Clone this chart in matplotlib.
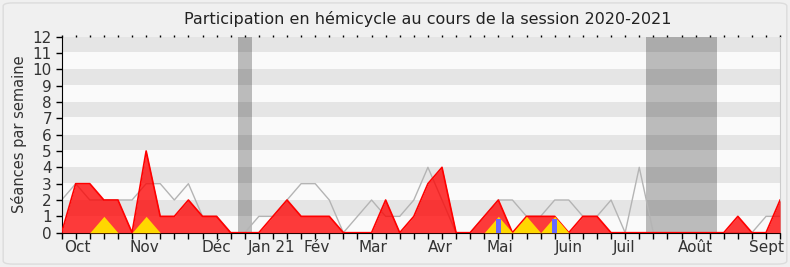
import matplotlib
matplotlib.use("Agg")
import matplotlib.pyplot as plt
from matplotlib.patches import FancyBboxPatch
import numpy as np

# weekly values, session 2020-2021 (52 weeks)
presence = [0, 3, 3, 2, 2, 0, 5, 1, 1, 2, 1, 1, 0, 0, 0, 1, 2, 1, 1, 1,
            0, 0, 0, 2, 0, 1, 3, 4, 0, 0, 1, 2, 0, 1, 1, 1, 0, 1, 1, 0,
            0, 0, 0, 0, 0, 0, 0, 0, 1, 0, 0, 2]
mediane = [2, 3, 2, 2, 2, 2, 3, 3, 2, 3, 1, 1, 0, 0, 1, 1, 2, 3, 3, 2,
           0, 1, 2, 1, 1, 2, 4, 2, 0, 0, 1, 2, 2, 1, 1, 2, 2, 1, 1, 2,
           0, 4, 0, 0, 0, 0, 0, 0, 0, 0, 1, 1]
interventions = [0, 0, 0, 1, 0, 0, 1, 0, 0, 0, 0, 0, 0, 0, 0, 0, 0, 0, 0, 0,
                 0, 0, 0, 0, 0, 0, 0, 0, 0, 0, 0, 1, 0, 1, 0, 1, 0, 0, 0, 0,
                 0, 0, 0, 0, 0, 0, 0, 0, 0, 0, 0, 0]
questions = {31: 0.85, 35: 0.85}
vacances = [(12.5, 13.5), (41.5, 46.5)]
mois = ["Oct", "Nov", "Déc", "Jan 21", "Fév", "Mar", "Avr", "Mai", "Juin", "Juil", "Août", "Sept"]
mois_pos = [1.1, 5.9, 11.0, 14.9, 18.1, 22.1, 26.9, 31.1, 36.0, 39.9, 45.0, 50.0]

semaines = np.arange(len(presence))

fig = plt.figure(figsize=(7.9, 2.67), dpi=100)
fig.patch.set_facecolor("#f0f0f0")
fig.patches.append(FancyBboxPatch((0.004, 0.011), 0.992, 0.978, boxstyle="round,pad=0,rounding_size=0.012",
                                  transform=fig.transFigure, facecolor="none", edgecolor="#dcdcdc", lw=1))
ax = fig.add_axes([0.078, 0.1285, 0.9095, 0.7345])
ax.set_facecolor("#fafafa")

# background stripes
for k in range(6):
    ax.axhspan(2 * k + 1.05, 2 * k + 2, color="#e5e5e5", lw=0, zorder=0)
# holidays
for a, b in vacances:
    ax.axvspan(a, b, color="black", alpha=0.25, lw=0, zorder=1)

ax.plot(semaines, mediane, color="#b4b4b4", lw=1, zorder=2)
ax.fill_between(semaines, presence, color="#ff0000", alpha=0.77, lw=0, zorder=3)
ax.plot(semaines, presence, color="#ff0000", lw=1.2, zorder=4)
ax.fill_between(semaines, interventions, color="#ffd700", lw=0, zorder=5)
ax.bar(list(questions.keys()), list(questions.values()), width=0.34, color="#6868ff", zorder=6)

ax.set_xlim(0, 51)
ax.set_ylim(0, 12)
ax.set_yticks(range(13))
ax.xaxis.remove_overlapping_locs = False
ax.set_xticks(semaines)
ax.set_xticklabels([])
ax.set_xticks(mois_pos, minor=True)
ax.set_xticklabels(mois, minor=True)
ax.tick_params(axis="x", which="major", length=4, width=1, color="black", direction="out")
ax.tick_params(axis="x", which="minor", length=0, pad=5, labelsize=11, labelcolor="#333333")
ax.tick_params(axis="y", length=4, width=1, labelsize=11, labelcolor="#333333", pad=3)

top = ax.secondary_xaxis("top")
top.set_xticks(semaines)
top.set_xticklabels([])
top.tick_params(length=1.5, width=1, direction="out")
top.spines["top"].set_visible(False)

ax.spines["top"].set_visible(False)
ax.spines["right"].set_color("#cccccc")
ax.spines["left"].set_color("black")
ax.spines["bottom"].set_color("black")

ax.set_ylabel("Séances par semaine", fontsize=10.5, color="#333333", labelpad=4)
fig.text(0.541, 0.93, "Participation en hémicycle au cours de la session 2020-2021",
         ha="center", va="center", fontsize=11.5, color="#222222")

fig.savefig("out.png", dpi=100, facecolor=fig.get_facecolor())
